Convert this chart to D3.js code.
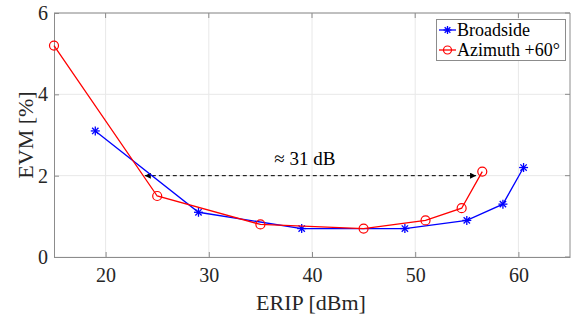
<!DOCTYPE html>
<head>
  <meta charset="utf-8" />
  <script src="https://d3js.org/d3.v7.min.js"></script>
  <style>
    body { margin: 0; background: #fff; }
  </style>
</head>
<body>
  <svg width="577" height="320"></svg>
  <script>
    // data
    var broadsideX = [19, 29, 39, 49, 55, 58.5, 60.5];
    var broadsideY = [3.1, 1.1, 0.7, 0.7, 0.9, 1.3, 2.2];
    var azimuthX = [15, 25, 35, 45, 51, 54.5, 56.5];
    var azimuthY = [5.2, 1.5, 0.8, 0.7, 0.9, 1.2, 2.1];
    var xTicks = [20, 30, 40, 50, 60];
    var yTicks = [0, 2, 4, 6];
    var arrowFrom = 23.8, arrowTo = 55.9, arrowLevel = 2;
    var seriesNames = ["Broadside", "Azimuth +60°"];

    var serif = "'Liberation Serif', 'Times New Roman', Times, serif";
    var svg = d3.select("svg").attr("font-family", serif);
    var pLeft = 54, pRight = 570, pTop = 13, pBottom = 257;

    var x = d3.scaleLinear().domain([15, 65]).range([pLeft, pRight]);
    var y = d3.scaleLinear().domain([0, 6]).range([pBottom, pTop]);

    // grid
    svg.append("g").selectAll("line").data(xTicks).enter().append("line")
      .attr("x1", function (d) { return x(d); }).attr("x2", function (d) { return x(d); })
      .attr("y1", pTop).attr("y2", pBottom)
      .attr("stroke", "#e8e8e8").attr("stroke-width", 1);
    svg.append("g").selectAll("line").data(yTicks).enter().append("line")
      .attr("x1", pLeft).attr("x2", pRight)
      .attr("y1", function (d) { return y(d); }).attr("y2", function (d) { return y(d); })
      .attr("stroke", "#e8e8e8").attr("stroke-width", 1);

    // axes
    var xAxis = svg.append("g").attr("transform", "translate(0," + pBottom + ")")
      .call(d3.axisBottom(x).tickValues(xTicks).tickFormat(d3.format("d"))
        .tickSizeInner(-5).tickSizeOuter(0).tickPadding(11));
    var yAxis = svg.append("g").attr("transform", "translate(" + pLeft + ",0)")
      .call(d3.axisLeft(y).tickValues(yTicks).tickFormat(d3.format("d"))
        .tickSizeInner(-5).tickSizeOuter(0).tickPadding(6));
    [xAxis, yAxis].forEach(function (a) {
      a.attr("font-family", serif).attr("font-size", 20);
      a.select(".domain").attr("stroke", "#8c8c8c");
      a.selectAll(".tick line").attr("stroke", "#8c8c8c");
      a.selectAll("text").attr("fill", "#262626");
    });
    // box top / right
    svg.append("line").attr("x1", pLeft).attr("x2", pRight).attr("y1", pTop).attr("y2", pTop).attr("stroke", "#8c8c8c");
    svg.append("line").attr("x1", pRight).attr("x2", pRight).attr("y1", pTop).attr("y2", pBottom).attr("stroke", "#8c8c8c");
    // top/right ticks
    svg.append("g").selectAll("line").data(xTicks).enter().append("line")
      .attr("x1", function (d) { return x(d); }).attr("x2", function (d) { return x(d); })
      .attr("y1", pTop).attr("y2", pTop + 5).attr("stroke", "#8c8c8c");
    svg.append("g").selectAll("line").data(yTicks).enter().append("line")
      .attr("x1", pRight).attr("x2", pRight - 5)
      .attr("y1", function (d) { return y(d); }).attr("y2", function (d) { return y(d); })
      .attr("stroke", "#8c8c8c");

    // axis labels
    svg.append("text").attr("x", 311).attr("y", 310)
      .attr("text-anchor", "middle").attr("fill", "#262626").attr("font-size", 22)
      .text("ERIP [dBm]");
    svg.append("text").attr("transform", "translate(33," + (pTop + pBottom) / 2 + ") rotate(-90)")
      .attr("text-anchor", "middle").attr("fill", "#262626").attr("font-size", 22)
      .text("EVM [%]");

    // annotation arrow
    var defs = svg.append("defs");
    defs.append("marker").attr("id", "ah").attr("viewBox", "0 0 10 10")
      .attr("refX", 10).attr("refY", 5).attr("markerWidth", 8).attr("markerHeight", 6)
      .attr("markerUnits", "userSpaceOnUse").attr("orient", "auto-start-reverse")
      .append("path").attr("d", "M0,0L10,5L0,10z").attr("fill", "#000");
    svg.append("line")
      .attr("x1", x(arrowFrom)).attr("x2", x(arrowTo))
      .attr("y1", y(arrowLevel)).attr("y2", y(arrowLevel))
      .attr("stroke", "#000").attr("stroke-width", 1).attr("stroke-dasharray", "4,3")
      .attr("marker-start", "url(#ah)").attr("marker-end", "url(#ah)");
    svg.append("text").attr("x", x(39.3)).attr("y", y(2.27))
      .attr("text-anchor", "middle").attr("fill", "#000").attr("font-size", 19)
      .text("≈ 31 dB");

    var line = d3.line().x(function (d) { return x(d[0]); }).y(function (d) { return y(d[1]); });
    var bData = d3.zip(broadsideX, broadsideY);
    var aData = d3.zip(azimuthX, azimuthY);

    function star(g, cx, cy, r, color) {
      for (var k = 0; k < 4; k++) {
        var ang = k * Math.PI / 4;
        g.append("line")
          .attr("x1", cx - r * Math.cos(ang)).attr("y1", cy - r * Math.sin(ang))
          .attr("x2", cx + r * Math.cos(ang)).attr("y2", cy + r * Math.sin(ang))
          .attr("stroke", color).attr("stroke-width", 1.3);
      }
    }

    svg.append("path").datum(bData).attr("d", line).attr("fill", "none")
      .attr("stroke", "#0000ff").attr("stroke-width", 1.3);
    var bg = svg.append("g");
    bData.forEach(function (d) { star(bg, x(d[0]), y(d[1]), 4.5, "#0000ff"); });

    svg.append("path").datum(aData).attr("d", line).attr("fill", "none")
      .attr("stroke", "#ff0000").attr("stroke-width", 1.3);
    svg.append("g").selectAll("circle").data(aData).enter().append("circle")
      .attr("cx", function (d) { return x(d[0]); }).attr("cy", function (d) { return y(d[1]); })
      .attr("r", 4.5).attr("fill", "none").attr("stroke", "#ff0000").attr("stroke-width", 1.2);

    // legend
    var lg = svg.append("g");
    lg.append("rect").attr("x", 436.5).attr("y", 19.5).attr("width", 129).attr("height", 41)
      .attr("fill", "#fff").attr("stroke", "#8c8c8c").attr("stroke-width", 1);
    var colors = ["#0000ff", "#ff0000"];
    seriesNames.forEach(function (name, i) {
      var ly = 30 + i * 20;
      lg.append("line").attr("x1", 439).attr("x2", 456).attr("y1", ly).attr("y2", ly)
        .attr("stroke", colors[i]).attr("stroke-width", 1.3);
      if (i === 0) star(lg, 447.5, ly, 4, colors[i]);
      else lg.append("circle").attr("cx", 447.5).attr("cy", ly).attr("r", 4)
        .attr("fill", "none").attr("stroke", colors[i]).attr("stroke-width", 1.2);
      lg.append("text").attr("x", 457).attr("y", ly + 6).attr("fill", "#000")
        .attr("font-size", 18).text(name);
    });
  </script>
</body>
